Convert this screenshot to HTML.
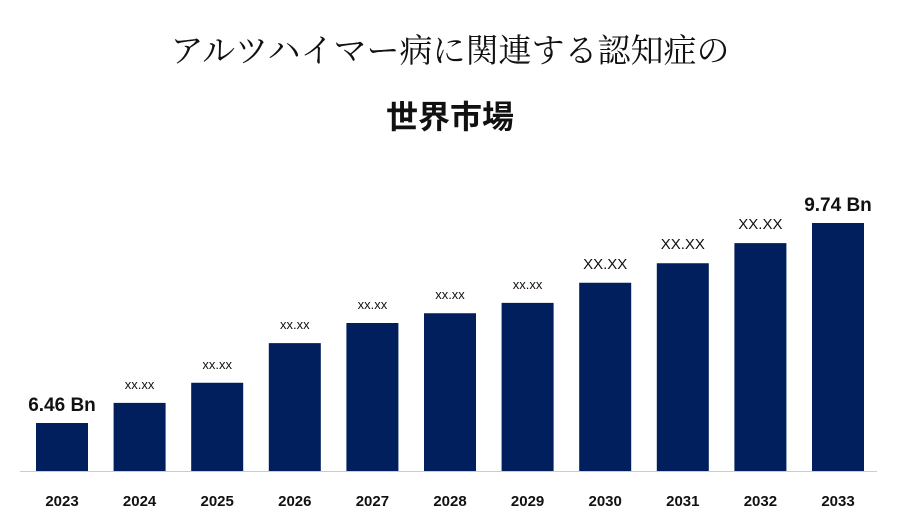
<!DOCTYPE html>
<html><head><meta charset="utf-8"><style>
body{margin:0;background:#fff;width:900px;height:525px;overflow:hidden;font-family:"Liberation Sans","Noto Sans CJK JP",sans-serif}
</style></head><body>
<svg width="900" height="525">
<text x="450" y="62" text-anchor="middle" font-family="'Liberation Serif','Noto Serif CJK SC',serif" font-size="33" fill="#111">アルツハイマー病に関連する認知症の</text>
<text x="450" y="128" text-anchor="middle" font-family="'Liberation Sans','Noto Sans CJK JP',sans-serif" font-weight="bold" font-size="32" fill="#111">世界市場</text>
<line x1="20" y1="471.5" x2="877" y2="471.5" stroke="#ccc" stroke-width="1"/>
<g id="bars"></g>
</svg>
<script>
const years=["2023","2024","2025","2026","2027","2028","2029","2030","2031","2032","2033"];
const values=[6.46,6.79,7.12,7.77,8.10,8.26,8.43,8.76,9.08,9.41,9.74];
const labels=["6.46 Bn","xx.xx","xx.xx","xx.xx","xx.xx","xx.xx","xx.xx","XX.XX","XX.XX","XX.XX","9.74 Bn"];
const base=5.673,k=60.98,y0=471,x0=36,pitch=77.6,bw=52;
function yScale(v){return y0-(v-base)*k;}
function xScale(i){return x0+i*pitch;}
const g=document.getElementById('bars');const ns="http://www.w3.org/2000/svg";
years.forEach((yr,i)=>{
 const x=xScale(i),y=yScale(values[i]);
 const r=document.createElementNS(ns,'rect');
 r.setAttribute('x',x);r.setAttribute('y',y);r.setAttribute('width',bw);r.setAttribute('height',y0-y);r.setAttribute('fill','#001f5c');
 
 
 g.appendChild(r);
 const t=document.createElementNS(ns,'text');
 t.setAttribute('x',x+bw/2);t.setAttribute('y',506);t.setAttribute('text-anchor','middle');t.setAttribute('font-weight','bold');t.setAttribute('font-size','15');t.setAttribute('fill','#111');
 t.textContent=yr;
 
 
 g.appendChild(t);
 const v=document.createElementNS(ns,'text');
 const big=labels[i].indexOf('Bn')>=0, mid=labels[i]==="XX.XX";
 v.setAttribute('x',x+bw/2);v.setAttribute('y',y-(big?12:mid?14:14));v.setAttribute('text-anchor','middle');
 v.setAttribute('font-size',big?'19':mid?'15':'13');if(big)v.setAttribute('font-weight','bold');v.setAttribute('fill','#111');
 v.textContent=labels[i];
 
 
 g.appendChild(v);
});
</script>
</body></html>
